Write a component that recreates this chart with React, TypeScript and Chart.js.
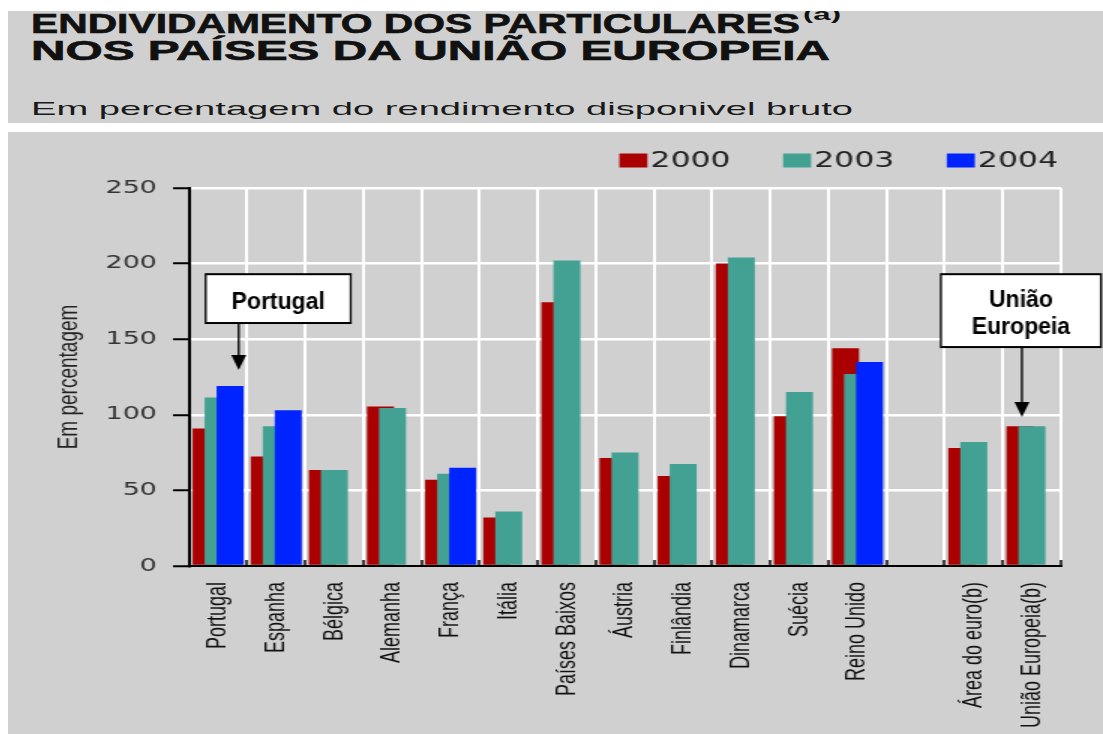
import React, { useEffect, useRef } from 'react';
import { Chart, registerables } from 'chart.js';

Chart.register(...registerables);

// ---------------- data ----------------
const categories = [
  'Portugal', 'Espanha', 'Bélgica', 'Alemanha', 'França', 'Itália', 'Países Baixos',
  'Áustria', 'Finlândia', 'Dinamarca', 'Suécia', 'Reino Unido', '', 'Área do euro(b)', 'União Europeia(b)',
];
const seriesLabels = ['2000', '2003', '2004'];
const values2000 = [91, 72.5, 63.5, 105.5, 57, 32, 174.5, 71.5, 59.5, 200, 99, 144, null, 78, 92.5];
const values2003 = [111.5, 92.5, 63.5, 104.5, 61, 36, 202, 75, 67.5, 204, 115, 127, null, 82, 92.5];
const values2004 = [119, 103, null, null, 65, null, null, null, null, null, null, 135, null, null, null];
const yMin = 0;
const yMax = 250;
const yStep = 50;

const titleLine1 = 'ENDIVIDAMENTO DOS PARTICULARES';
const titleSup = '(a)';
const titleLine2 = 'NOS PAÍSES DA UNIÃO EUROPEIA';
const subtitle = 'Em percentagem do rendimento disponivel bruto';
const yAxisTitle = 'Em percentagem';

// annotation callouts (category index, y values in axis units)
const callouts = [
  { index: 0, lines: ['Portugal'], tip: 129.6, boxTop: 193, boxBottom: 160.7, arrowDx: 20.6, boxLeft: -33, boxRight: 112 },
  { index: 14, lines: ['União', 'Europeia'], tip: 98.5, boxTop: 193, boxBottom: 144.8, arrowDx: -10, boxLeft: -81, boxRight: 79 },
];

// ---------------- styles ----------------
const SX = 1.5; // horizontal stretch of the picture
const CW = 730;
const CH = 602;
const GRAY = '#d0d0d0';
const RED = '#aa0000';
const TEAL = '#43a193';
const BLUE = '#0024ff';

const drawOrderPlugin = {
  id: 'drawOrder',
  beforeDatasetsDraw(chart: any) {
    const area = chart.chartArea;
    const ctx = chart.ctx;
    for (let i = 0; i < chart.data.datasets.length; i++) {
      if (!chart.isDatasetVisible(i)) continue;
      const meta = chart.getDatasetMeta(i);
      ctx.save();
      ctx.beginPath();
      ctx.rect(area.left, area.top - 2, area.right - area.left, area.bottom - area.top + 2);
      ctx.clip();
      meta.controller.draw();
      ctx.restore();
    }
    return false;
  },
};

const legendPlugin = {
  id: 'stretchedLegend',
  afterDraw(chart: any) {
    const ctx = chart.ctx;
    const ds = chart.data.datasets;
    ctx.save();
    ctx.font = '21px "DejaVu Sans", sans-serif';
    ctx.textBaseline = 'middle';
    ctx.textAlign = 'left';
    const boxW = 18.7;
    const boxH = 14;
    const gap = 2;
    const spacing = 35;
    const yMid = 28.5;
    let x = chart.chartArea.right - 2;
    const widths = ds.map((d: any) => boxW + gap + ctx.measureText(d.label).width);
    for (let i = ds.length - 1; i >= 0; i--) {
      const start = x - widths[i];
      ctx.fillStyle = ds[i].backgroundColor;
      ctx.fillRect(start, yMid - boxH / 2, boxW, boxH);
      ctx.fillStyle = '#222';
      ctx.fillText(ds[i].label, start + boxW + gap, yMid + 1);
      x = start - spacing;
    }
    ctx.restore();
  },
};

const calloutPlugin = {
  id: 'callouts',
  afterDraw(chart: any) {
    const xs = chart.scales.x;
    const ys = chart.scales.y;
    const ctx = chart.ctx;
    for (const a of callouts) {
      const cx = xs.getPixelForValue(a.index);
      const top = ys.getPixelForValue(a.boxTop);
      const bottom = ys.getPixelForValue(a.boxBottom);
      const tip = ys.getPixelForValue(a.tip);
      ctx.save();
      ctx.translate(cx, 0);
      ctx.scale(1 / SX, 1);
      const ax = a.arrowDx;
      const l = ax + a.boxLeft;
      const w = a.boxRight - a.boxLeft;
      ctx.fillStyle = '#ffffff';
      ctx.fillRect(l, top, w, bottom - top);
      ctx.strokeStyle = '#000';
      ctx.lineWidth = 2;
      ctx.strokeRect(l, top, w, bottom - top);
      ctx.fillStyle = '#000';
      ctx.font = 'bold 23px "Liberation Sans", Arial, sans-serif';
      ctx.textAlign = 'center';
      ctx.textBaseline = 'alphabetic';
      const midX = l + w / 2;
      const midY = (top + bottom) / 2 + 2;
      const n = a.lines.length;
      a.lines.forEach((t, k) => {
        const capCenter = midY + (k - (n - 1) / 2) * 27;
        ctx.fillText(t, midX, capCenter + 8.2);
      });
      ctx.beginPath();
      ctx.moveTo(ax, bottom);
      ctx.lineTo(ax, tip - 12);
      ctx.stroke();
      ctx.beginPath();
      ctx.moveTo(ax - 7.5, tip - 15);
      ctx.lineTo(ax + 7.5, tip - 15);
      ctx.lineTo(ax, tip);
      ctx.closePath();
      ctx.fill();
      ctx.restore();
    }
  },
};

const titleStyle = {
  font: 'bold 27px "Liberation Sans", Arial, sans-serif',
  fill: '#111',
  stroke: '#111',
  strokeWidth: 0.6,
};

export default function App() {
  const ref = useRef<HTMLCanvasElement | null>(null);

  useEffect(() => {
    document.body.style.overflow = 'hidden';
    const canvas = ref.current;
    if (!canvas) return;
    const chart = new Chart(canvas, {
      type: 'bar',
      data: {
        labels: categories,
        datasets: [
          { label: seriesLabels[0], data: values2000, backgroundColor: RED, borderWidth: 0 },
          { label: seriesLabels[1], data: values2003, backgroundColor: TEAL, borderWidth: 0 },
          { label: seriesLabels[2], data: values2004, backgroundColor: BLUE, borderWidth: 0 },
        ],
      },
      options: {
        responsive: false,
        animation: false,
        devicePixelRatio: 1,
        datasets: {
          bar: { categoryPercentage: 0.619, barPercentage: 2.25 },
        },
        layout: { padding: { left: 0, right: 28, top: 56, bottom: 0 } },
        plugins: {
          legend: { display: false },
          tooltip: { enabled: false },
          title: { display: false },
        },
        scales: {
          x: {
            type: 'category',
            grid: {
              offset: true,
              color: (c: any) => (c.index === 0 ? 'rgba(0,0,0,0)' : '#ffffff'),
              lineWidth: 2,
              tickColor: '#000',
              tickWidth: 1.5,
              tickLength: -6,
              drawTicks: true,
            },
            border: { color: '#000', width: 2, z: 1 },
            ticks: {
              autoSkip: false,
              minRotation: 90,
              maxRotation: 90,
              padding: 22,
              color: '#111',
              font: { family: '"Liberation Sans", Arial, sans-serif', size: 18 },
            },
            afterFit: (s: any) => {
              s.height = CH - 56 - 378;
            },
          },
          y: {
            min: yMin,
            max: yMax,
            ticks: {
              stepSize: yStep,
              padding: 10.7,
              color: '#333',
              font: { family: '"DejaVu Sans", sans-serif', size: 18 },
            },
            grid: {
              color: (c: any) => (c.tick && c.tick.value === 0 ? 'rgba(0,0,0,0)' : '#ffffff'),
              lineWidth: 2.5,
              tickColor: '#000',
              tickWidth: 2,
              tickLength: 10.7,
            },
            border: { color: '#000', width: 2 },
            title: {
              display: true,
              text: yAxisTitle,
              color: '#222',
              font: { family: '"Liberation Sans", Arial, sans-serif', size: 19 },
              padding: { top: 29, bottom: 0 },
            },
            afterFit: (s: any) => {
              s.width = 120.7;
            },
          },
        },
      },
      plugins: [drawOrderPlugin, legendPlugin, calloutPlugin],
    } as any);
    return () => chart.destroy();
  }, []);

  return (
    <div style={{ position: 'fixed', left: 0, top: 0, width: 1103, height: 734, overflow: 'hidden', background: '#fff' }}>
      <div style={{ position: 'absolute', left: 8, top: 11, width: 1095, height: 112, background: GRAY, overflow: 'hidden' }}>
        <svg width={1095} height={112} style={{ display: 'block' }}>
          <text x={23} y={22} textLength={769} lengthAdjust="spacingAndGlyphs" style={titleStyle}>{titleLine1}</text>
          <text x={795} y={9} textLength={38} lengthAdjust="spacingAndGlyphs"
            style={{ font: 'bold 17px "Liberation Sans", Arial, sans-serif', fill: '#111' }}>{titleSup}</text>
          <text x={23} y={49} textLength={799} lengthAdjust="spacingAndGlyphs" style={titleStyle}>{titleLine2}</text>
          <text x={23} y={104} textLength={822} lengthAdjust="spacingAndGlyphs"
            style={{ font: '19px "Liberation Sans", Arial, sans-serif', fill: '#1a1a1a' }}>{subtitle}</text>
        </svg>
      </div>
      <div style={{ position: 'absolute', left: 8, top: 132, width: 1095, height: 602, background: GRAY, overflow: 'hidden' }}>
        <div style={{ width: CW, height: CH, transform: `scaleX(${SX})`, transformOrigin: '0 0' }}>
          <canvas ref={ref} width={CW} height={CH} style={{ display: 'block' }} />
        </div>
      </div>
    </div>
  );
}
